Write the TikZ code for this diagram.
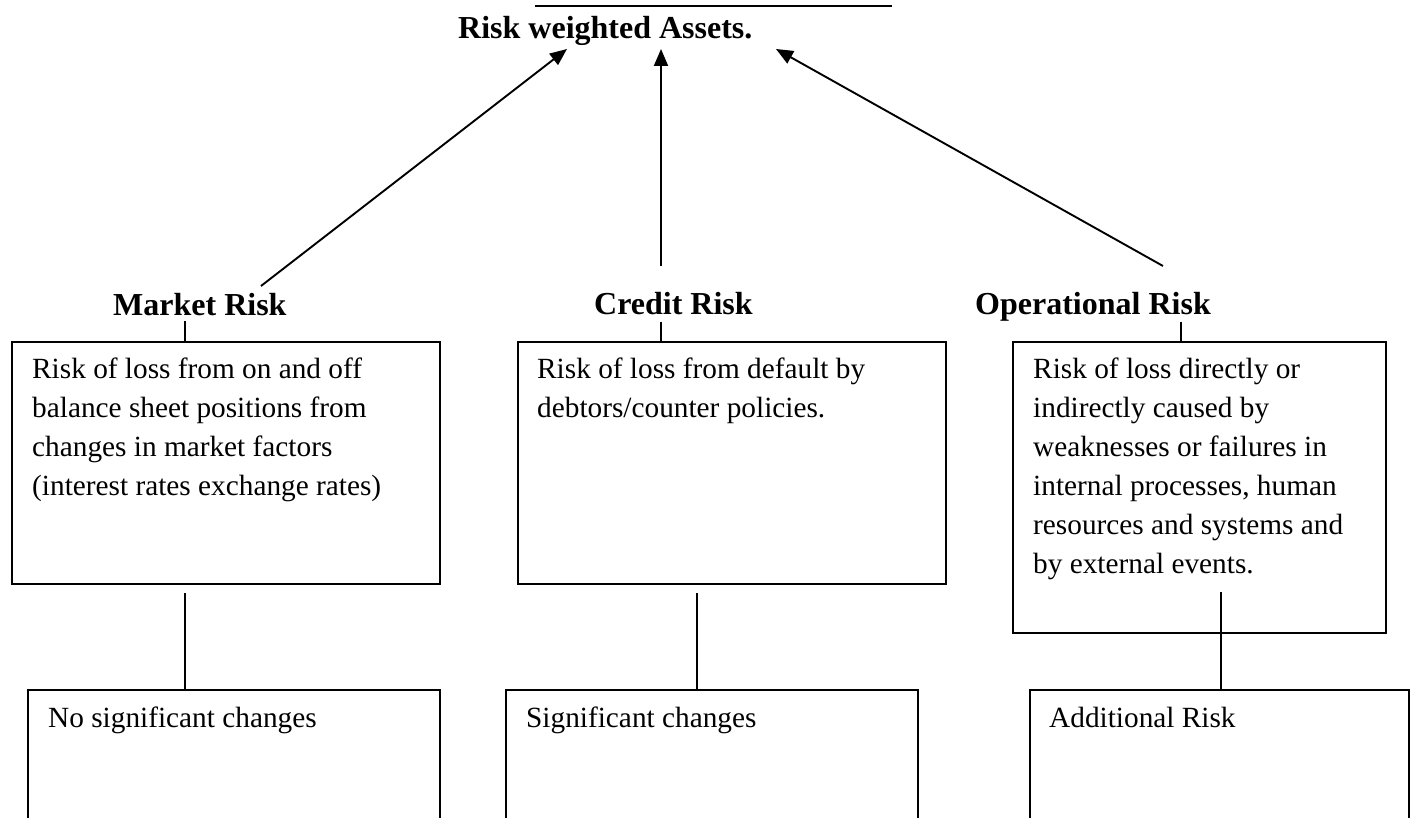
\documentclass[tikz,border=0pt]{standalone}
\usepackage{fontspec}
\setmainfont{Liberation Serif}
\usetikzlibrary{arrows.meta}

\begin{document}
\begin{tikzpicture}[x=1pt,y=-1pt,
    box/.style={draw,line width=2pt,inner sep=0pt,anchor=north west},
    head/.style={font=\fontsize{32}{38}\selectfont\bfseries,inner sep=0pt,anchor=base west},
    body/.style={font=\fontsize{29.3}{39}\selectfont,inner sep=0pt,anchor=base west,align=left},
    link/.style={line width=1.8pt},
    arr/.style={line width=1.9pt,-{Triangle[length=17pt,width=14pt]}}]
    \clip (0,0) rectangle (1411,818);
    % top
    \node[head] (title) at (458,39) {Risk weighted Assets.};
    \draw[link] (535,6) -- (892,6);
    % risk labels
    \node[head] (mkt) at (113,316) {Market Risk};
    \node[head] (crd) at (594,315) {Credit Risk};
    \node[head,anchor=base east] (op) at (1211,315) {Operational Risk};
    % boxes
    \node[box,minimum width=428pt,minimum height=242pt] (mktBox) at (11,341) {};
    \node[box,minimum width=428pt,minimum height=242pt] (crdBox) at (517,341) {};
    \node[box,minimum width=373pt,minimum height=291pt] (opBox) at (1012,341) {};
    \node[box,minimum width=412pt,minimum height=160pt] (noBox) at (27,689) {};
    \node[box,minimum width=412pt,minimum height=160pt] (sigBox) at (505,689) {};
    \node[box,minimum width=379pt,minimum height=160pt] (addBox) at (1029,689) {};
    % base of a wrapped text is its last line
    \node[body] (mktText) at ([xshift=21pt,yshift=-154pt]mktBox.north west)
        {Risk of loss from on and off\\balance sheet positions from\\changes in market factors\\(interest rates exchange rates)};
    \node[body] (crdText) at ([xshift=20pt,yshift=-76pt]crdBox.north west)
        {Risk of loss from default by\\debtors/counter policies.};
    \node[body] (opText) at ([xshift=21pt,yshift=-232pt]opBox.north west)
        {Risk of loss directly or\\indirectly caused by\\weaknesses or failures in\\internal processes, human\\resources and systems and\\by external events.};
    \node[body] (noText) at ([xshift=21pt,yshift=-38pt]noBox.north west) {No significant changes};
    \node[body] (sigText) at ([xshift=21pt,yshift=-38pt]sigBox.north west) {Significant changes};
    \node[body] (addText) at ([xshift=20pt,yshift=-38pt]addBox.north west) {Additional Risk};
    % arrows to the title
    \coordinate (mktTail) at (261,286);
    \coordinate (mktTip) at (567,49);
    \coordinate (crdTail) at (661,266);
    \coordinate (crdTip) at (661,49);
    \coordinate (opTail) at (1163,266);
    \coordinate (opTip) at (776,49);
    \draw[arr] (mktTail) -- (mktTip);
    \draw[arr] (crdTail) -- (crdTip);
    \draw[arr] (opTail) -- (opTip);
    % short ticks and links
    \coordinate (mktTick) at (185,321);
    \coordinate (crdTick) at (661,322);
    \coordinate (opTick) at (1181,322);
    \draw[link] (mktTick) -- (mktTick |- mktBox.north);
    \draw[link] (crdTick) -- (crdTick |- crdBox.north);
    \draw[link] (opTick) -- (opTick |- opBox.north);
    \coordinate (mktLow) at (185,593);
    \coordinate (crdLow) at (697,593);
    \coordinate (opLow) at (1221,592);
    \draw[link] (mktLow) -- (mktLow |- noBox.north);
    \draw[link] (crdLow) -- (crdLow |- sigBox.north);
    \draw[link] (opLow) -- (opLow |- addBox.north);
\end{tikzpicture}
\end{document}
